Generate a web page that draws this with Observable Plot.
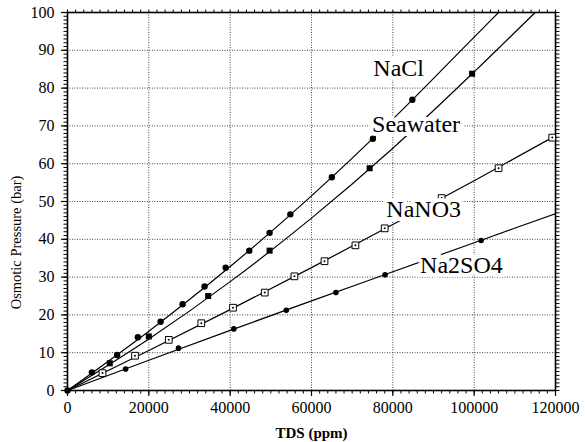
<!DOCTYPE html>
<html><head><meta charset="utf-8">
<script src="https://cdn.jsdelivr.net/npm/d3@7"></script>
<script src="https://cdn.jsdelivr.net/npm/@observablehq/plot@0.6"></script>
<style>
html,body{margin:0;padding:0;background:#fff;}
#chart{position:relative;width:585px;height:442px;}
#chart svg{display:block;position:absolute;left:0;top:0;}
</style>
</head><body><div id="chart"></div>
<script>
// Measured points (TDS ppm, osmotic pressure bar)
const naclTDS = [0, 6000, 12200, 17300, 22900, 28300, 33700, 38900, 44700, 49700, 54800, 65000, 75100, 84800];
const naclPressure = [0, 4.8, 9.4, 14.1, 18.2, 22.8, 27.5, 32.5, 37.0, 41.7, 46.6, 56.4, 66.6, 76.9];
const seawaterTDS = [10400, 20000, 34600, 49700, 74300, 99500];
const seawaterPressure = [7.2, 14.3, 25.0, 37.0, 58.8, 83.8];
const nano3TDS = [8600, 16600, 24900, 32900, 40700, 48500, 55800, 63200, 70800, 78000, 92000, 106000, 119200];
const nano3Pressure = [4.6, 9.2, 13.4, 17.8, 21.9, 25.9, 30.2, 34.2, 38.4, 42.9, 50.9, 58.8, 66.9];
const na2so4TDS = [14300, 27300, 40900, 53800, 66000, 78100, 101700];
const na2so4Pressure = [5.7, 11.2, 16.3, 21.2, 25.9, 30.6, 39.7];

// Fitted curves
const naclFitTDS = [0, 20000, 40000, 60000, 80000, 100000, 106000];
const naclFitPressure = [0, 15.7, 32.8, 51.5, 71.8, 93.5, 100];
const seawaterFitTDS = [0, 20000, 40000, 60000, 80000, 100000, 115000];
const seawaterFitPressure = [0, 13.6, 28.8, 45.6, 64.1, 84.3, 100];
const nano3FitTDS = [0, 20000, 40000, 60000, 80000, 100000, 120000];
const nano3FitPressure = [0, 10.6, 21.4, 32.5, 43.9, 55.5, 67.4];
const na2so4FitTDS = [0, 20000, 40000, 60000, 80000, 100000, 120000];
const na2so4FitPressure = [0, 8.0, 15.9, 23.7, 31.4, 39.1, 46.8];

// Series labels
const labelNames = ["NaCl", "Seawater", "NaNO3", "Na2SO4"];
const labelTDS = [75200, 74900, 78400, 86700];
const labelPressure = [83.3, 68.5, 45.8, 31.2];

// Ticks and titles
const xTicks = [0, 20000, 40000, 60000, 80000, 100000, 120000];
const xTickLabels = ["0", "20000", "40000", "60000", "80000", "100000", "120000"];
const yTicks = [0, 10, 20, 30, 40, 50, 60, 70, 80, 90, 100];
const yTickLabels = ["0", "10", "20", "30", "40", "50", "60", "70", "80", "90", "100"];
const xMinor = d3.range(0, 120001, 2000);
const yMinor = d3.range(0, 101, 1);
const xTitle = "TDS (ppm)";
const yTitle = "Osmotic Pressure (bar)";

const rows = (xs, ys) => xs.map((x, i) => ({x, y: ys[i]}));
const labels = labelNames.map((n, i) => ({name: n, x: labelTDS[i], y: labelPressure[i]}));
const blank = () => "";

const common = {
  width: 585, height: 442,
  marginLeft: 67, marginRight: 30, marginTop: 12, marginBottom: 52
};

// Layer 1: dotted grid and minor ticks
const gridLayer = Plot.plot({
  ...common,
  style: {fontFamily: "Liberation Serif", background: "white", color: "black", overflow: "visible"},
  x: {domain: [0, 120000], label: null},
  y: {domain: [0, 100], label: null},
  marks: [
    Plot.gridX(xTicks.slice(1, -1), {stroke: "#444", strokeOpacity: 1, strokeDasharray: "1,1.5", strokeWidth: 1}),
    Plot.gridY(yTicks.slice(1, -1), {stroke: "#444", strokeOpacity: 1, strokeDasharray: "1,1.5", strokeWidth: 1}),
    Plot.axisX(xMinor, {anchor: "bottom", tickSize: 3.5, tickFormat: blank, label: null}),
    Plot.axisX(xMinor, {anchor: "top", tickSize: 3.5, tickFormat: blank, label: null}),
    Plot.axisY(yMinor, {anchor: "left", tickSize: 3.5, tickFormat: blank, label: null}),
    Plot.axisY(yMinor, {anchor: "right", tickSize: 3.5, tickFormat: blank, label: null}),
    Plot.frame({stroke: "black", strokeWidth: 1.6})
  ]
});

// Layer 2: curves, points, series labels (white halo hides lines behind text)
const dataLayer = Plot.plot({
  ...common,
  style: {fontFamily: "Liberation Serif", background: "transparent", color: "black", overflow: "visible"},
  x: {domain: [0, 120000], axis: null},
  y: {domain: [0, 100], axis: null},
  marks: [
    Plot.line(rows(naclFitTDS, naclFitPressure), {x: "x", y: "y", curve: "monotone-x", stroke: "black", strokeWidth: 1.2, clip: true}),
    Plot.line(rows(seawaterFitTDS, seawaterFitPressure), {x: "x", y: "y", curve: "monotone-x", stroke: "black", strokeWidth: 1.2, clip: true}),
    Plot.line(rows(nano3FitTDS, nano3FitPressure), {x: "x", y: "y", curve: "monotone-x", stroke: "black", strokeWidth: 1.2, clip: true}),
    Plot.line(rows(na2so4FitTDS, na2so4FitPressure), {x: "x", y: "y", curve: "monotone-x", stroke: "black", strokeWidth: 1.2, clip: true}),
    Plot.dot(rows(naclTDS, naclPressure), {x: "x", y: "y", r: 3.2, fill: "black", stroke: "none"}),
    Plot.dot(rows(seawaterTDS, seawaterPressure), {x: "x", y: "y", r: 3.4, symbol: "square", fill: "black", stroke: "none"}),
    Plot.dot(rows(nano3TDS, nano3Pressure), {x: "x", y: "y", r: 3.8, symbol: "square", fill: "white", stroke: "black", strokeWidth: 1}),
    Plot.dot(rows(nano3TDS, nano3Pressure), {x: "x", y: "y", r: 1, fill: "black", stroke: "none"}),
    Plot.dot(rows(na2so4TDS, na2so4Pressure), {x: "x", y: "y", r: 2.8, fill: "black", stroke: "none"}),
    Plot.text(labels, {x: "x", y: "y", text: "name", textAnchor: "start", lineAnchor: "bottom", fontSize: 24, fill: "black", stroke: "white", strokeWidth: 8, strokeLinejoin: "miter"})
  ]
});

// Layer 3: main ticks, tick labels, titles
const axisLayer = Plot.plot({
  ...common,
  style: {fontFamily: "Liberation Serif", background: "transparent", color: "black", overflow: "visible"},
  x: {domain: [0, 120000], label: null},
  y: {domain: [0, 100], label: null},
  marks: [
    Plot.axisX(xTicks, {anchor: "bottom", tickSize: 6, tickPadding: 5, fontSize: 16, tickFormat: (d, i) => xTickLabels[i], label: null, strokeWidth: 1.2}),
    Plot.axisY(yTicks, {anchor: "left", tickSize: 6, tickPadding: 7, fontSize: 16, tickFormat: (d, i) => yTickLabels[i], label: null, strokeWidth: 1.2}),
    Plot.text([xTitle], {text: d => d, frameAnchor: "bottom", dy: 43, fontSize: 15, fontWeight: "bold", lineAnchor: "middle"}),
    Plot.text([yTitle], {text: d => d, frameAnchor: "left", rotate: -90, dx: -51, dy: 41, fontSize: 14.5, lineAnchor: "middle", textAnchor: "middle"})
  ]
});

const holder = document.getElementById("chart");
holder.appendChild(gridLayer);
holder.appendChild(dataLayer);
holder.appendChild(axisLayer);
</script>
</body></html>
